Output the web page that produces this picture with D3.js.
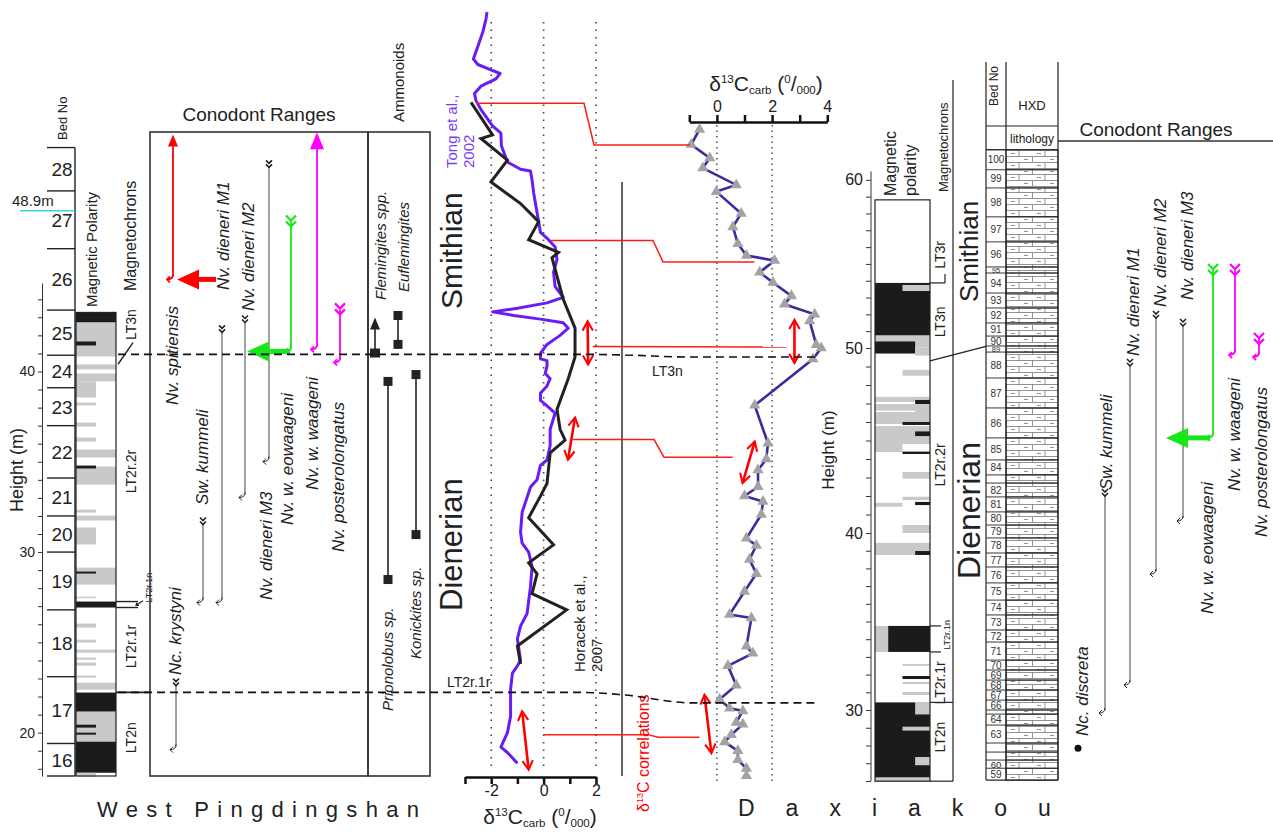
<!DOCTYPE html>
<html>
<head>
<meta charset="utf-8">
<script src="https://cdn.jsdelivr.net/npm/d3@7"></script>
<style>
  body { margin: 0; background: #fff; }
  svg text { font-family: Arial, "Liberation Sans", sans-serif; }
</style>
</head>
<body>
<div id="chart"></div>
<script>
const width = 1273, height = 833;

// --------------------------------------
//  Data : West Pingdingshan
// --------------------------------------

const wpBedNo   = [28, 27, 26, 25, 24, 23, 22, 21, 20, 19, 18, 17, 16];
const wpBedTop  = [52.4, 50.0, 46.8, 43.4, 40.9, 39.1, 37.0, 34.1, 32.0, 30.0, 26.8, 23.1, 19.4];
const wpBedBase = 17.6;

// polarity bands [top m, bottom m, span, tone]  (k black, g grey)
const wpPolarity = [
  [43.27, 42.71, "F", "k"], [42.71, 40.83, "F", "g"], [41.66, 41.44, "L", "k"],
  [40.39, 40.11, "F", "g"], [39.89, 39.45, "F", "g"], [39.45, 38.56, "L", "g"],
  [38.28, 38.12, "L", "g"], [37.17, 36.95, "L", "g"], [36.34, 36.12, "L", "g"],
  [35.68, 35.24, "F", "g"], [34.74, 33.74, "F", "g"], [34.79, 34.63, "L", "k"],
  [32.35, 32.19, "L", "g"], [32.02, 31.75, "F", "g"], [31.36, 30.42, "L", "g"],
  [29.14, 28.20, "F", "g"], [28.92, 28.81, "L", "k"], [27.53, 27.48, "L", "g"],
  [27.26, 26.93, "F", "k"], [26.04, 25.82, "L", "g"], [25.15, 24.99, "L", "g"],
  [24.60, 24.43, "F", "g"], [24.16, 24.04, "L", "g"], [23.88, 23.71, "L", "g"],
  [23.16, 23.05, "L", "g"], [22.77, 22.38, "F", "g"], [22.22, 21.16, "F", "k"],
  [21.16, 19.50, "F", "g"], [20.44, 20.28, "L", "k"], [20.00, 19.89, "L", "k"],
  [19.50, 17.78, "F", "k"], [17.78, 17.56, "L", "g"]
];

const wpChronName = ["LT3n", "LT2r.2r", "LT2r.1r", "LT2n"];
const wpChronMid  = [42.6, 34.46, 24.77, 19.72];

// d13C carb, Tong et al. 2002 (purple)
const tongH = [59.9, 59.5, 58.8, 58.0, 57.3, 57.0, 56.7, 56.5, 56.2, 55.8, 55.4, 55.0, 54.5, 53.6, 53.2, 52.5,
  51.6, 51.2, 51.1, 50.6, 49.9, 48.8, 47.7, 47.3, 46.9, 46.2, 45.5, 44.7, 44.1, 43.8, 43.5, 43.3, 43.1, 42.9,
  42.7, 42.4, 42.0, 41.5, 41.0, 40.7, 40.6, 40.3, 39.9, 39.6, 39.2, 38.8, 38.4, 38.1, 37.7, 36.8, 35.9, 35.1,
  34.8, 34.0, 33.6, 32.2, 31.1, 30.5, 30.0, 29.2, 28.1, 26.6, 25.9, 25.2, 24.0, 23.7, 23.3, 22.4, 20.9, 20.0,
  19.2, 18.9, 18.3];
const tongD = [-2.16, -2.20, -2.32, -2.51, -2.68, -2.51, -2.01, -1.66, -1.82, -2.39, -2.64, -2.58, -2.39, -1.95,
  -1.63, -1.61, -1.38, -0.88, -0.50, -0.44, -0.38, -0.25, -0.12, 0.19, 0.44, 0.51, 0.38, 0.44, 0.75, 0.13, -1.00,
  -1.95, -1.13, -0.12, 0.75, 0.94, 0.63, 0.13, -0.12, -0.12, 0.13, 0.13, 0.06, 0.25, 0.13, -0.12, -0.12, 0.13,
  0.44, 0.25, 0.25, 0.13, -0.12, -0.25, -0.50, -0.82, -0.88, -0.82, -0.57, -0.44, -0.50, -0.63, -0.88, -1.00,
  -0.88, -1.00, -1.19, -1.26, -1.26, -1.38, -1.63, -1.38, -1.00];

// d13C carb, Horacek et al. 2007 (black)
const horH = [54.9, 53.1, 52.9, 51.7, 50.5, 49.3, 48.3, 47.3, 46.6, 46.3, 44.0, 42.4, 40.8, 39.6, 37.9, 36.8,
  36.2, 35.5, 33.8, 33.1, 31.9, 30.4, 29.4, 28.8, 27.7, 26.8, 24.8, 23.8];
const horD = [-2.77, -1.95, -2.39, -1.38, -2.01, -0.88, -0.19, -0.57, 0.57, 0.32, 0.75, 1.20, 1.20, 0.94, 0.51,
  0.63, 0.82, 0.25, 0.13, -0.12, -0.57, 0.38, -0.57, -0.25, -0.44, 0.88, -1.00, -0.88];

const wpConoName  = ["Nv. spitiensis", "Sw. kummeli", "Nv. dieneri M1", "Nv. dieneri M2", "Nv. dieneri M3",
  "Nv. w. eowaageni", "Nv. w. waageni", "Nv. posterolongatus", "Nc. krystyni"];
const wpConoFirst = [45.10, 27.20, 27.20, 33.02, 35.01, 41.11, 41.22, 40.50, 19.06];
const wpConoLast  = [53.13, 31.69, 42.33, 42.88, 51.47, 48.42, 53.24, 43.55, 22.77];
const wpConoTone  = ["red", "grey", "grey", "grey", "grey", "green", "magenta", "magenta", "grey"];
const wpConoTop   = ["arrow", "chev", "chev", "chev", "chev", "chev", "arrow", "chev", "chev"];

const ammoName = ["Flemingites spp.", "Euflemingites", "Prionolobus sp.", "Konickites sp."];
const ammoLow  = [41.05, 41.50, 28.48, 30.97];
const ammoHigh = [42.77, 43.10, 39.45, 39.83];

// --------------------------------------
//  Data : Daxiakou
// --------------------------------------

const dxkH = [63.0, 62.1, 61.3, 60.7, 59.7, 59.3, 58.0, 57.2, 56.2, 55.5, 55.2, 54.5, 53.9, 53.1, 52.6, 52.0,
  51.6, 50.2, 50.0, 49.4, 46.9, 44.85, 44.0, 43.4, 42.5, 42.0, 41.7, 41.0, 39.7, 39.3, 38.5, 37.7, 36.7, 35.4,
  35.2, 33.6, 33.2, 32.5, 31.4, 30.6, 30.1, 29.95, 29.3, 29.2, 28.6, 28.2, 27.7, 27.2, 26.7, 26.3];
const dxkD = [-0.63, -0.93, -0.26, -0.51, 0.70, -0.02, 0.88, 0.58, 0.76, 1.07, 2.09, 1.55, 2.03, 2.70, 2.45, 3.54,
  3.36, 3.60, 3.78, 3.48, 1.37, 1.85, 1.79, 1.49, 1.49, 1.00, 1.67, 1.61, 1.07, 1.43, 1.18, 1.43, 1.00, 0.46,
  1.25, 1.07, 1.30, 0.40, 0.70, 0.10, 0.46, 0.94, 0.70, 0.94, 0.52, 0.28, 0.76, 0.76, 1.07, 1.07];

const dxkBedNo  = [100, 99, 98, 97, 96, 95, 94, 93, 92, 91, 90, 89, 88, 87, 86, 85, 84, "", 82, 81, 80, 79, 78,
  77, 76, 75, 74, 73, 72, 71, 70, 69, 68, 67, 66, "", 64, 63, "", "", 60, 59];
const dxkBedTop = [61.79, 60.60, 59.52, 57.80, 56.31, 54.82, 54.46, 53.27, 52.38, 51.49, 50.71, 50.12, 49.78,
  48.38, 46.76, 45.14, 43.95, 43.14, 42.70, 41.95, 41.14, 40.43, 39.72, 38.87, 38.08, 37.18, 36.21, 35.37,
  34.52, 33.84, 32.82, 32.26, 31.69, 31.13, 30.56, 30.00, 29.77, 29.15, 28.14, 27.63, 27.18, 26.72];
const dxkBedBase = 26.05;

const dxkPolarity = [
  [53.87, 50.74, "F", "k"], [53.75, 53.39, "R", "g"], [50.74, 50.02, "F", "g"], [50.39, 49.70, "P", "k"],
  [50.02, 49.59, "Q", "g"], [48.82, 48.50, "R", "g"], [47.36, 47.08, "F", "g"], [47.19, 46.97, "Q", "k"],
  [46.97, 45.89, "F", "g"], [46.62, 46.55, "P", "w"], [46.00, 45.84, "R", "k"], [45.78, 44.81, "F", "g"],
  [45.49, 45.24, "Q", "k"], [44.81, 44.38, "L", "g"], [44.40, 44.27, "R", "k"], [43.30, 42.94, "R", "g"],
  [41.96, 41.78, "R", "g"], [41.63, 41.42, "L", "g"], [41.68, 41.51, "Q", "k"], [40.43, 40.00, "R", "g"],
  [39.44, 38.76, "F", "g"], [38.98, 38.76, "Q", "k"], [34.75, 33.28, "S", "g"], [34.75, 33.28, "T", "k"],
  [32.60, 32.49, "R", "g"], [31.92, 31.75, "R", "k"], [31.58, 31.47, "R", "g"], [31.02, 30.85, "R", "g"],
  [30.43, 25.99, "F", "k"], [30.45, 29.75, "Q", "g"], [29.06, 28.84, "R", "g"], [27.35, 26.89, "Q", "g"],
  [26.21, 25.99, "F", "g"]
];

const dxkChronName = ["LT3r", "LT3n", "LT2r.2r", "LT2r.1r", "LT2n"];
const dxkChronMid  = [55.54, 51.55, 43.68, 31.53, 28.47];

const dxkConoName  = ["Nc. discreta", "Sw. kummeli", "Nv. dieneri M1", "Nv. dieneri M2", "Nv. dieneri M3",
  "Nv. w. eowaageni", "Nv. w. waageni", "Nv. posterolongatus"];
const dxkConoFirst = [27.85, 29.83, 31.41, 37.68, 40.65, 45.14, 49.62, 49.51];
const dxkConoLast  = [27.85, 42.16, 49.19, 51.96, 51.49, 54.76, 54.76, 50.65];
const dxkConoTone  = ["grey", "grey", "grey", "grey", "grey", "green", "magenta", "magenta"];

// correlations (m on each section, d13C value at each end)
const corrLeftH  = [54.85, 47.26, 41.39, 36.23, 19.89];
const corrLeftD  = [-2.58, 0.29, 1.88, 1.11, 0.0];
const corrRightH = [62.08, 55.12, 50.06, 44.10, 28.47];
const corrRightD = [-0.99, 1.36, 2.52, 0.57, -0.63];

const chronLinkName = ["LT3n", "LT2r.1r"];
const chronLinkLeft = [40.95, 22.23];
const chronLinkRight = [49.51, 30.40];

// --------------------------------------
//  Canvas
// --------------------------------------

const svg = d3.select("#chart")
  .append("svg")
    .attr("width", width)
    .attr("height", height)
    .attr("viewBox", [0, 0, width, height]);

const defs = svg.append("defs");

const colors = { red: "#ff0000", green: "#17e617", magenta: "#ff00ff", grey: "#444" };
const tone = { k: "#1b1b1b", g: "#c9c9c9", w: "#ffffff" };

// --------------------------------------
//  Scales
// --------------------------------------

const yL = d3.scaleLinear().domain([17.6, 44.9]).range([776, 283]);
const yR = d3.scaleLinear().domain([26, 30, 40, 50, 63.5]).range([781, 710, 533, 348, 121]);
const xL = d3.scaleLinear().domain([-3, 2]).range([465, 596]);
const xR = d3.scaleLinear().domain([-1, 4]).range([689.3, 827.3]);

// --------------------------------------
//  Helpers
// --------------------------------------

function vtext(x, y, str, size, anchor = "start", opt = {}) {
  return svg.append("text")
    .attr("transform", `translate(${x},${y}) rotate(-90)`)
    .attr("dy", "0.35em")
    .attr("text-anchor", anchor)
    .attr("font-size", size)
    .attr("font-style", opt.italic ? "italic" : null)
    .attr("fill", opt.fill || "#222")
    .text(str);
}

function line(x1, y1, x2, y2, stroke = "#222", w = 1.2, dash = null) {
  return svg.append("line")
    .attr("x1", x1).attr("y1", y1).attr("x2", x2).attr("y2", y2)
    .attr("stroke", stroke).attr("stroke-width", w)
    .attr("stroke-dasharray", dash);
}

function chevrons(x, y, color, big) {
  const s = big ? 5 : 3;
  const p = d3.path();
  [0, s + 1].forEach(o => {
    p.moveTo(x - s, y + o); p.lineTo(x, y + o + s); p.lineTo(x + s, y + o);
  });
  svg.append("path").attr("d", p.toString())
    .attr("fill", "none").attr("stroke", color).attr("stroke-width", big ? 2.2 : 1.6);
}

function hook(x, y, color, w) {
  svg.append("path")
    .attr("d", `M${x},${y - 5} Q${x},${y} ${x - 6},${y} M${x - 3},${y - 3} L${x - 6},${y} L${x - 3},${y + 3}`)
    .attr("fill", "none").attr("stroke", color).attr("stroke-width", w);
}

function bigArrow(tipX, tailX, y, color) {
  svg.append("line").attr("x1", tipX + 18).attr("x2", tailX).attr("y1", y).attr("y2", y)
    .attr("stroke", color).attr("stroke-width", 5);
  svg.append("path").attr("d", `M${tipX},${y} L${tipX + 22},${y - 10} L${tipX + 22},${y + 10} Z`)
    .attr("fill", color);
}

function upHead(x, y, color, s = 6) {
  svg.append("path").attr("d", `M${x},${y} L${x - s},${y + 2.4 * s} L${x + s},${y + 2.4 * s} Z`).attr("fill", color);
}

function d13Label(x, y, size, anchor) {
  const t = svg.append("text").attr("x", x).attr("y", y).attr("font-size", size)
    .attr("text-anchor", anchor).attr("fill", "#222");
  t.append("tspan").text("δ");
  t.append("tspan").attr("font-size", size * 0.55).attr("dy", -size * 0.4).text("13");
  t.append("tspan").attr("dy", size * 0.4).text("C");
  t.append("tspan").attr("font-size", size * 0.55).attr("dy", size * 0.15).text("carb");
  t.append("tspan").attr("dy", -size * 0.15).text(" (");
  t.append("tspan").attr("font-size", size * 0.55).attr("dy", -size * 0.4).text("0");
  t.append("tspan").attr("dy", size * 0.4).text("/");
  t.append("tspan").attr("font-size", size * 0.55).attr("dy", size * 0.15).text("000");
  t.append("tspan").attr("dy", -size * 0.15).text(")");
}

const spanFrac = { F: [0, 1], L: [0, 0.5], R: [0.5, 1], P: [0, 0.73], Q: [0.73, 1], S: [0, 0.24], T: [0.24, 1] };

// arrow markers for red double arrows
defs.append("marker").attr("id", "redhead").attr("viewBox", "0 0 10 10")
  .attr("refX", 8).attr("refY", 5).attr("markerWidth", 5).attr("markerHeight", 5)
  .attr("orient", "auto-start-reverse").attr("markerUnits", "strokeWidth")
  .append("path").attr("d", "M1,1 L8,5 L1,9").attr("fill", "none").attr("stroke", "#ff0000").attr("stroke-width", 1.6);

// --------------------------------------
//  West Pingdingshan columns
// --------------------------------------

// height axis
svg.append("g")
  .attr("transform", "translate(42,0)")
  .call(d3.axisLeft(yL).tickValues(d3.range(18, 45)).tickSize(4).tickSizeOuter(0)
    .tickFormat(d => d % 10 === 0 ? d : ""))
  .call(g => g.select(".domain").attr("stroke", "#333"))
  .call(g => g.selectAll(".tick line").attr("stroke", "#333"))
  .call(g => g.selectAll(".tick text").attr("font-size", 14).attr("fill", "#222").attr("font-family", "Arial, Liberation Sans"));

vtext(17, 470, "Height (m)", 18, "middle");

// beds
const wpBottoms = wpBedTop.slice(1).concat([wpBedBase]);
svg.append("g").selectAll("line").data(wpBedTop.concat([wpBedBase])).join("line")
  .attr("x1", 47).attr("x2", 75).attr("y1", d => yL(d)).attr("y2", d => yL(d))
  .attr("stroke", "#222").attr("stroke-width", 1.4);
svg.append("g").selectAll("text").data(wpBedNo).join("text")
  .attr("x", 62).attr("y", (d, i) => (yL(wpBedTop[i]) + yL(wpBottoms[i])) / 2 + 7)
  .attr("text-anchor", "middle").attr("font-size", 19).attr("fill", "#222")
  .text(d => d);
line(75, yL(wpBedTop[0]), 75, yL(wpBedBase), "#222", 1.4);
vtext(62, 140, "Bed No", 13);

// 48.9 m marker
line(20, yL(48.9), 75, yL(48.9), "#38d3e6", 1.6);
svg.append("text").attr("x", 12).attr("y", yL(48.9) - 5).attr("font-size", 15).attr("fill", "#222").text("48.9m");

// polarity column
const wpPolX = [76, 116];
svg.append("rect").attr("x", wpPolX[0]).attr("y", yL(43.27))
  .attr("width", wpPolX[1] - wpPolX[0]).attr("height", yL(wpBedBase) - yL(43.27))
  .attr("fill", "#fff");
svg.append("g").selectAll("rect").data(wpPolarity).join("rect")
  .attr("x", d => wpPolX[0] + spanFrac[d[2]][0] * (wpPolX[1] - wpPolX[0]))
  .attr("width", d => (spanFrac[d[2]][1] - spanFrac[d[2]][0]) * (wpPolX[1] - wpPolX[0]))
  .attr("y", d => yL(d[0]))
  .attr("height", d => Math.max(1.5, yL(d[1]) - yL(d[0])))
  .attr("fill", d => tone[d[3]]);
svg.append("rect").attr("x", wpPolX[0]).attr("y", yL(43.27))
  .attr("width", wpPolX[1] - wpPolX[0]).attr("height", yL(wpBedBase) - yL(43.27))
  .attr("fill", "none").attr("stroke", "#222").attr("stroke-width", 1.2);
vtext(92, 307, "Magnetic Polarity", 15);

// magnetochrons
vtext(130, 291, "Magnetochrons", 16);
wpChronName.forEach((n, i) => vtext(131, yL(wpChronMid[i]), n, 14, "middle"));
line(118, yL(40.4), 133, yL(41.6), "#222", 1.4);
line(116, yL(27.26), 138, yL(27.26), "#222", 1.4);
line(116, yL(26.93), 138, yL(26.93), "#222", 1.4);
line(116, yL(22.23), 150, yL(22.23), "#222", 1.6);
svg.append("path").attr("d", `M143,${yL(27.3)} L136,${yL(27.05)} M139,${yL(27.05)} L136,${yL(27.05)} L137,${yL(27.2)}`)
  .attr("fill", "none").attr("stroke", "#222").attr("stroke-width", 1.2);
svg.append("text").attr("transform", `translate(149,${yL(27.2)}) rotate(-90)`).attr("dy", "0.35em")
  .attr("font-size", 9).attr("fill", "#222").text("LT2r.1n");

// --------------------------------------
//  West Pingdingshan conodonts and ammonoids
// --------------------------------------

svg.append("rect").attr("x", 150).attr("y", 132).attr("width", 218).attr("height", yL(wpBedBase) - 132)
  .attr("fill", "none").attr("stroke", "#333").attr("stroke-width", 1.6);
svg.append("rect").attr("x", 368).attr("y", 132).attr("width", 62).attr("height", yL(wpBedBase) - 132)
  .attr("fill", "none").attr("stroke", "#333").attr("stroke-width", 1.6);
svg.append("text").attr("x", 259).attr("y", 121).attr("text-anchor", "middle")
  .attr("font-size", 19).attr("fill", "#222").text("Conodont Ranges");
vtext(399, 122, "Ammonoids", 15);

const wpConoX = [173, 203, 222, 245, 269, 291, 317, 340, 176];
const wpConoLabel = [[172, 405], [202, 505], [223, 290], [248, 311], [266, 600], [287, 525], [312, 490], [338, 552], [175, 675]];

wpConoName.forEach((n, i) => {
  const c = colors[wpConoTone[i]], x = wpConoX[i];
  const w = wpConoTone[i] === "grey" ? 1 : 1.8;
  const yTop = yL(wpConoLast[i]), yBot = yL(wpConoFirst[i]);
  line(x, yTop + (wpConoTop[i] === "arrow" ? 10 : 2), x, yBot - 3, c, w);
  if (wpConoTop[i] === "arrow") upHead(x, yTop, c, wpConoTone[i] === "magenta" ? 7 : 5);
  else chevrons(x, yTop - 4, wpConoTone[i] === "grey" ? "#222" : c, wpConoTone[i] !== "grey");
  hook(x, yBot, wpConoTone[i] === "grey" ? "#222" : c, w);
  vtext(wpConoLabel[i][0], wpConoLabel[i][1], n, 17, "start", { italic: true });
});
bigArrow(177, 216, yL(45.10), colors.red);
bigArrow(247, 290, yL(41.11), colors.green);

// ammonoids
const ammoX = [375, 398, 388, 416];
const ammoLabel = [[381, 300], [404, 292], [388, 711], [416, 659]];
ammoName.forEach((n, i) => {
  const x = ammoX[i];
  line(x, yL(ammoHigh[i]), x, yL(ammoLow[i]), "#222", 1.6);
  if (i === 0) {
    upHead(x, yL(ammoHigh[i]) - 4, "#222", 5);
    svg.append("rect").attr("x", x - 5).attr("y", yL(ammoLow[i]) - 4).attr("width", 10).attr("height", 9).attr("fill", "#222");
  } else {
    [ammoHigh[i], ammoLow[i]].forEach(h =>
      svg.append("rect").attr("x", x - 4.5).attr("y", yL(h) - 4.5).attr("width", 9).attr("height", 9).attr("fill", "#222"));
  }
  vtext(ammoLabel[i][0], ammoLabel[i][1], n, 15, "start", { italic: true });
});

// --------------------------------------
//  West Pingdingshan d13C
// --------------------------------------

[-2, 0, 2].forEach(v => line(xL(v), 22, xL(v), 772, "#444", 1.6, "1.5,6"));

svg.append("g")
  .attr("transform", "translate(0,777)")
  .call(d3.axisBottom(xL).ticks(5).tickSize(7).tickSizeOuter(0)
    .tickFormat(d => d % 2 === 0 ? d : ""))
  .call(g => g.select(".domain").attr("stroke", "#111").attr("stroke-width", 2.5))
  .call(g => g.selectAll(".tick line").attr("stroke", "#111").attr("stroke-width", 2.5))
  .call(g => g.selectAll(".tick text").attr("font-size", 16).attr("fill", "#222").attr("dy", "0.55em").attr("font-family", "Arial, Liberation Sans"));
d13Label(540, 824, 21, "middle");

const curveL = d3.line().x(d => xL(d[0])).y(d => yL(d[1]));
svg.append("path").datum(d3.zip(tongD, tongH)).attr("d", curveL)
  .attr("fill", "none").attr("stroke", "#6a1cf7").attr("stroke-width", 3).attr("stroke-linejoin", "round");
svg.append("path").datum(d3.zip(horD, horH)).attr("d", curveL)
  .attr("fill", "none").attr("stroke", "#222").attr("stroke-width", 3);

vtext(452, 168, "Tong et al.,", 15, "start", { fill: "#7a3cf2" });
vtext(469, 168, "2002", 15, "start", { fill: "#7a3cf2" });
vtext(580, 672, "Horacek et al.,", 15, "start");
vtext(597, 672, "2007", 15, "start");

vtext(451, 309, "Smithian", 30, "start");
vtext(451, 611, "Dienerian", 31, "start");

line(622, 182, 622, 776, "#222", 1.4);

// --------------------------------------
//  Daxiakou d13C
// --------------------------------------

[0, 2].forEach(v => line(xR(v), 125, xR(v), 781, "#444", 1.4, "1.5,4"));

svg.append("g")
  .attr("transform", "translate(0,122)")
  .call(d3.axisTop(xR).ticks(5).tickSize(7).tickSizeOuter(0)
    .tickFormat(d => d % 2 === 0 ? d : ""))
  .call(g => g.select(".domain").attr("stroke", "#111").attr("stroke-width", 2.5))
  .call(g => g.selectAll(".tick line").attr("stroke", "#111").attr("stroke-width", 2.5))
  .call(g => g.selectAll(".tick text").attr("font-size", 16).attr("fill", "#222").attr("font-family", "Arial, Liberation Sans"));
d13Label(766, 91, 21, "middle");

const curveR = d3.line().x(d => xR(d[0])).y(d => yR(d[1]));
svg.append("path").datum(d3.zip(dxkD, dxkH)).attr("d", curveR)
  .attr("fill", "none").attr("stroke", "#3d2a9e").attr("stroke-width", 2.6);
svg.append("g").selectAll("path").data(d3.zip(dxkD, dxkH)).join("path")
  .attr("d", d3.symbol(d3.symbolTriangle, 55))
  .attr("transform", d => `translate(${xR(d[0])},${yR(d[1])})`)
  .attr("fill", "#a3a3a3");

// right height axis
svg.append("g")
  .attr("transform", "translate(871,0)")
  .call(d3.axisLeft(yR).tickValues(d3.range(26, 61)).tickSize(5)
    .tickFormat(d => d % 10 === 0 ? d : ""))
  .call(g => g.select(".domain").remove())
  .call(g => g.selectAll(".tick line").attr("stroke", "#333"))
  .call(g => g.selectAll(".tick text").attr("font-size", 16).attr("fill", "#222").attr("font-family", "Arial, Liberation Sans"));
line(871, yR(26), 871, yR(60.5), "#333", 1);
vtext(828, 450, "Height (m)", 17, "middle");

// --------------------------------------
//  Correlation lines
// --------------------------------------

const corrBendX = [584, 653, null, 654, 648];
corrLeftH.forEach((h, i) => {
  const x0 = xL(corrLeftD[i]), y0 = yL(h), x1 = xR(corrRightD[i]), y1 = yR(corrRightH[i]);
  const b = corrBendX[i];
  const pts = b ? [[x0, y0], [b, y0], [b + 10, y1], [x1, y1]] : [[x0, y0], [x1, y1]];
  svg.append("path").attr("d", d3.line()(pts))
    .attr("fill", "none").attr("stroke", "#ff1a1a").attr("stroke-width", 1.5);
});

const arrowsL = [[[1.68, 42.77], [1.70, 40.39]], [[1.20, 37.45], [0.93, 35.12]], [[-0.82, 21.18], [-0.57, 17.95]]];
const arrowsR = [[[2.81, 51.67], [2.81, 49.19]], [[1.37, 44.94], [0.93, 42.70]], [[-0.45, 30.85], [-0.20, 27.57]]];
arrowsL.forEach(a => line(xL(a[0][0]), yL(a[0][1]), xL(a[1][0]), yL(a[1][1]), "#ff0000", 2.6)
  .attr("marker-start", "url(#redhead)").attr("marker-end", "url(#redhead)"));
arrowsR.forEach(a => line(xR(a[0][0]), yR(a[0][1]), xR(a[1][0]), yR(a[1][1]), "#ff0000", 2.6)
  .attr("marker-start", "url(#redhead)").attr("marker-end", "url(#redhead)"));

const t13 = svg.append("text").attr("transform", "translate(643,812) rotate(-90)").attr("dy", "0.35em")
  .attr("font-size", 16).attr("fill", "#ff0000");
t13.append("tspan").text("δ");
t13.append("tspan").attr("font-size", 9).attr("dy", -6).text("13");
t13.append("tspan").attr("dy", 6).text("C correlations");

// magnetochron links (dashed)
chronLinkName.forEach((n, i) => {
  const a = yL(chronLinkLeft[i]), b = yR(chronLinkRight[i]);
  svg.append("path")
    .attr("d", d3.line().curve(d3.curveMonotoneX)([[118, a], [582, a], [625, a + (b - a) * 0.25], [692, b], [817, b]]))
    .attr("fill", "none").attr("stroke", "#111").attr("stroke-width", 1.6).attr("stroke-dasharray", "8,5");
});
svg.append("text").attr("x", 652).attr("y", 376).attr("font-size", 14).attr("fill", "#222").text("LT3n");
svg.append("text").attr("x", 447).attr("y", 687).attr("font-size", 14).attr("fill", "#222").text("LT2r.1r");

// --------------------------------------
//  Daxiakou polarity, chrons, beds
// --------------------------------------

const dxPolX = [875, 930];
const polTop = 58.81;
svg.append("rect").attr("x", dxPolX[0]).attr("y", yR(polTop))
  .attr("width", dxPolX[1] - dxPolX[0]).attr("height", yR(25.99) - yR(polTop)).attr("fill", "#fff");
svg.append("g").selectAll("rect").data(dxkPolarity).join("rect")
  .attr("x", d => dxPolX[0] + spanFrac[d[2]][0] * (dxPolX[1] - dxPolX[0]))
  .attr("width", d => (spanFrac[d[2]][1] - spanFrac[d[2]][0]) * (dxPolX[1] - dxPolX[0]))
  .attr("y", d => yR(d[0]))
  .attr("height", d => Math.max(1.5, yR(d[1]) - yR(d[0])))
  .attr("fill", d => tone[d[3]]);
svg.append("rect").attr("x", dxPolX[0]).attr("y", yR(polTop))
  .attr("width", dxPolX[1] - dxPolX[0]).attr("height", yR(25.99) - yR(polTop))
  .attr("fill", "none").attr("stroke", "#222").attr("stroke-width", 1.2);
vtext(890, 196, "Magnetic", 16);
vtext(910, 196, "polarity", 16);
vtext(943, 192, "Magnetochrons", 13);

dxkChronName.forEach((n, i) => vtext(940, yR(dxkChronMid[i]), n, 14, "middle"));
svg.append("text").attr("transform", `translate(947,${yR(33.4)}) rotate(-90)`).attr("dy", "0.35em")
  .attr("font-size", 9).attr("fill", "#222").text("LT2r.1n");
line(930, yR(53.87), 945, yR(53.87), "#222", 1.2);
line(945, yR(53.87), 945, yR(54.4), "#222", 1.2);
line(930, yR(49.3), 986, yR(50.1), "#222", 1.2);
line(930, yR(34.75), 941, yR(34.75), "#222", 1.2);
line(930, yR(33.28), 941, yR(33.28), "#222", 1.2);
line(930, yR(30.43), 953, yR(30.43), "#222", 1.2);
line(930, yR(25.99), 953, yR(25.99), "#222", 1.2);
line(953, 80, 953, yR(25.99), "#222", 1.2);

vtext(969, 302, "Smithian", 26, "start");
vtext(969, 579, "Dienerian", 32, "start");

// beds and lithology
const lith = defs.append("pattern").attr("id", "lith").attr("patternUnits", "userSpaceOnUse")
  .attr("x", 1006).attr("y", 150).attr("width", 26).attr("height", 12);
lith.append("path")
  .attr("d", "M0,0.5H26M0,6.5H26M13,0.5V6.5M0.5,6.5V12.5M5,3.5h4M18,9.5h4")
  .attr("stroke", "#666").attr("stroke-width", 0.7).attr("fill", "none");

const dxkBottoms = dxkBedTop.slice(1).concat([dxkBedBase]);
svg.append("g").selectAll("rect").data(dxkBedTop).join("rect")
  .attr("x", 1006).attr("width", 52)
  .attr("y", d => yR(d)).attr("height", (d, i) => yR(dxkBottoms[i]) - yR(d))
  .attr("fill", "url(#lith)").attr("stroke", "#222").attr("stroke-width", 0.9);
svg.append("g").selectAll("line").data(dxkBedTop).join("line")
  .attr("x1", 986).attr("x2", 1006).attr("y1", d => yR(d)).attr("y2", d => yR(d))
  .attr("stroke", "#222").attr("stroke-width", 0.9);
svg.append("g").selectAll("text").data(dxkBedNo).join("text")
  .attr("x", 996)
  .attr("font-size", (d, i) => Math.min(10, yR(dxkBottoms[i]) - yR(dxkBedTop[i]) + 1.5))
  .attr("y", (d, i) => (yR(dxkBedTop[i]) + yR(dxkBottoms[i])) / 2)
  .attr("dy", "0.36em")
  .attr("text-anchor", "middle").attr("fill", "#333")
  .text(d => d);

line(986, 62, 986, yR(dxkBedBase), "#222", 1.2);
line(1006, 62, 1006, yR(dxkBedBase), "#222", 1.2);
line(1058, 62, 1058, yR(dxkBedBase), "#222", 1.2);
line(986, yR(dxkBedBase), 1058, yR(dxkBedBase), "#222", 1.2);
line(986, 126, 1058, 126, "#222", 1);
line(986, yR(dxkBedTop[0]), 1058, yR(dxkBedTop[0]), "#222", 1);
vtext(994, 106, "Bed No", 12);
svg.append("text").attr("x", 1032).attr("y", 110).attr("text-anchor", "middle").attr("font-size", 13).attr("fill", "#222").text("HXD");
svg.append("text").attr("x", 1032).attr("y", 143).attr("text-anchor", "middle").attr("font-size", 12).attr("fill", "#222").text("lithology");

// --------------------------------------
//  Daxiakou conodonts
// --------------------------------------

svg.append("text").attr("x", 1156).attr("y", 136).attr("text-anchor", "middle")
  .attr("font-size", 19).attr("fill", "#222").text("Conodont Ranges");
line(1058, 141, 1273, 141, "#333", 1.4);

const dxkConoX = [1078, 1105, 1130, 1156, 1183, 1213, 1235, 1259];
const dxkConoLabel = [[1082, 736], [1106, 490], [1133, 356], [1160, 307], [1187, 300], [1207, 614], [1234, 491], [1261, 537]];

dxkConoName.forEach((n, i) => {
  const x = dxkConoX[i];
  vtext(dxkConoLabel[i][0], dxkConoLabel[i][1], n, 17, "start", { italic: true });
  if (dxkConoFirst[i] === dxkConoLast[i]) {
    svg.append("circle").attr("cx", x).attr("cy", yR(dxkConoFirst[i])).attr("r", 3.5).attr("fill", "#111");
    return;
  }
  const c = colors[dxkConoTone[i]];
  const w = dxkConoTone[i] === "grey" ? 1 : 1.8;
  const yTop = yR(dxkConoLast[i]), yBot = yR(dxkConoFirst[i]);
  line(x, yTop + 2, x, yBot - 3, c, w);
  chevrons(x, yTop - 4, dxkConoTone[i] === "grey" ? "#222" : c, dxkConoTone[i] !== "grey");
  hook(x, yBot, dxkConoTone[i] === "grey" ? "#222" : c, w);
});
bigArrow(1166, 1210, yR(45.14), colors.green);

// --------------------------------------
//  Section names
// --------------------------------------

svg.append("text").attr("x", 97).attr("y", 817).attr("font-size", 22).attr("letter-spacing", 8.3)
  .attr("fill", "#222").text("West Pingdingshan");
svg.append("text").attr("x", 738).attr("y", 816).attr("font-size", 23).attr("letter-spacing", 31)
  .attr("fill", "#222").text("Daxiakou");
</script>
</body>
</html>
